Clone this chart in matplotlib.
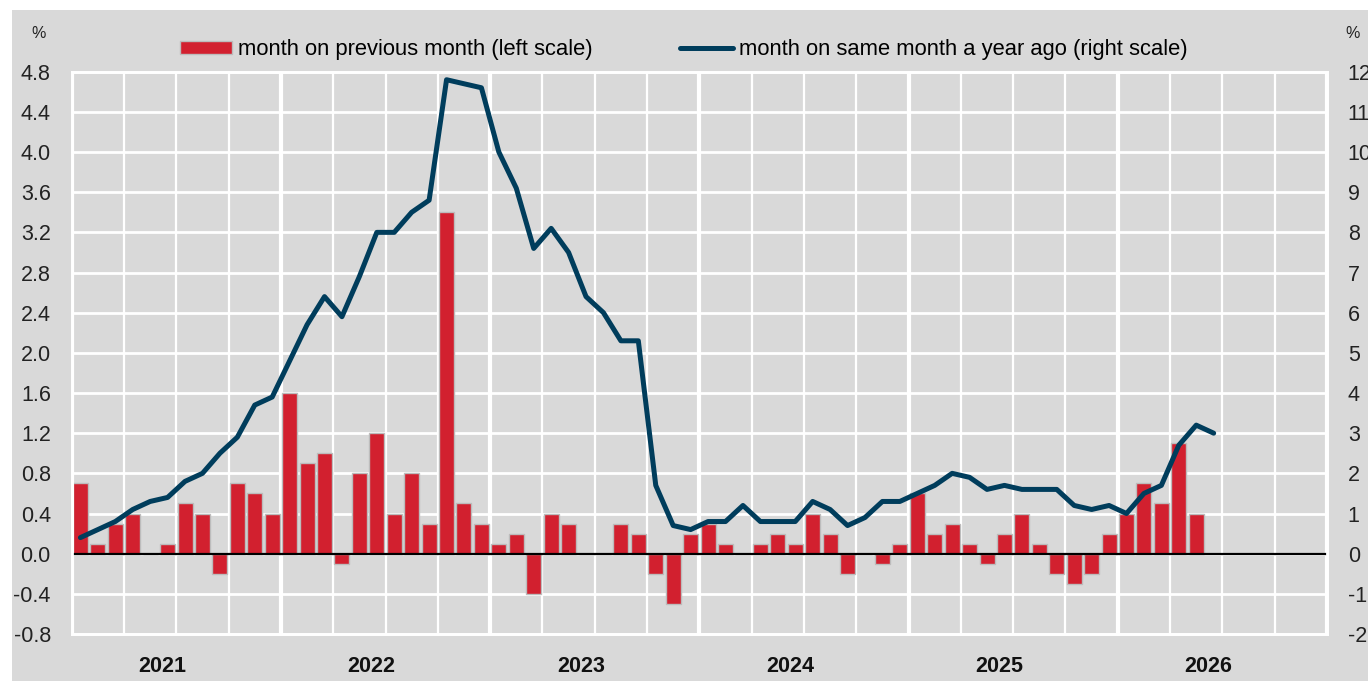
import matplotlib.pyplot as plt
import numpy as np
from matplotlib.patches import Rectangle
from matplotlib.transforms import blended_transform_factory

plt.rcParams['font.family'] = ['Liberation Sans', 'DejaVu Sans']

# =========================
# data (monthly, from Jan 2021)
# =========================
years = [2021, 2022, 2023, 2024, 2025, 2026]

# month on previous month, Jan 2021 - May 2026 (left scale, %)
mom = [0.7, 0.1, 0.3, 0.4, 0.0, 0.1, 0.5, 0.4, -0.2, 0.7, 0.6, 0.4,
       1.6, 0.9, 1.0, -0.1, 0.8, 1.2, 0.4, 0.8, 0.3, 3.4, 0.5, 0.3,
       0.1, 0.2, -0.4, 0.4, 0.3, 0.0, 0.0, 0.3, 0.2, -0.2, -0.5, 0.2,
       0.3, 0.1, 0.0, 0.1, 0.2, 0.1, 0.4, 0.2, -0.2, 0.0, -0.1, 0.1,
       0.6, 0.2, 0.3, 0.1, -0.1, 0.2, 0.4, 0.1, -0.2, -0.3, -0.2, 0.2,
       0.4, 0.7, 0.5, 1.1, 0.4]

# month on same month a year ago, Jan 2021 - Jun 2026 (right scale, %)
yoy = [0.4, 0.6, 0.8, 1.1, 1.3, 1.4, 1.8, 2.0, 2.5, 2.9, 3.7, 3.9,
       4.8, 5.7, 6.4, 5.9, 6.9, 8.0, 8.0, 8.5, 8.8, 11.8, 11.7, 11.6,
       10.0, 9.1, 7.6, 8.1, 7.5, 6.4, 6.0, 5.3, 5.3, 1.7, 0.7, 0.6,
       0.8, 0.8, 1.2, 0.8, 0.8, 0.8, 1.3, 1.1, 0.7, 0.9, 1.3, 1.3,
       1.5, 1.7, 2.0, 1.9, 1.6, 1.7, 1.6, 1.6, 1.6, 1.2, 1.1, 1.2,
       1.0, 1.5, 1.7, 2.7, 3.2, 3.0]

left_ticks = np.arange(-0.8, 4.81, 0.4)
right_ticks = np.arange(-2, 13, 1)

RED = '#d2202f'
NAVY = '#003d5c'
GREY = '#d9d9d9'

W, H = 1368, 681
fig = plt.figure(figsize=(W / 100, H / 100), dpi=100)
fig.patch.set_facecolor('white')
# grey panel (the white strip on top is the cropped title area)
fig.patches.append(Rectangle((12 / W, 0), 1 - 12 / W, 1 - 10 / H,
                             transform=fig.transFigure, facecolor=GREY,
                             edgecolor='none', zorder=-10))

x0, x1, y0, y1 = 71.7, 1327, 71.7, 634
ax = fig.add_axes([x0 / W, 1 - y1 / H, (x1 - x0) / W, (y1 - y0) / H])
ax.set_facecolor(GREY)
ax2 = ax.twinx()

n_months = 12 * len(years)
xb = np.arange(len(mom))
xl = np.arange(len(yoy))

bars = ax.bar(xb, mom, width=0.86, color=RED, edgecolor='#bcbcbc',
              linewidth=1.0, zorder=2, label='month on previous month (left scale)')
ax.axhline(0, color='black', lw=1.6, zorder=3)
line, = ax2.plot(xl, yoy, color=NAVY, lw=3.6, solid_joinstyle='round',
                 solid_capstyle='round',
                 label='month on same month a year ago (right scale)')

ax.set_xlim(-0.5, n_months - 0.5)
ax2.set_xlim(-0.5, n_months - 0.5)
ax.set_ylim(-0.8, 4.8)
ax2.set_ylim(-2, 12)

# grid: quarters thin, years thick
ax.set_axisbelow(True)
ax.set_yticks(left_ticks)
ax.set_yticklabels([f'{v:.1f}' for v in left_ticks])
ax.yaxis.grid(True, color='white', lw=2)
ax.set_xticks(np.arange(-0.5, n_months, 3))
ax.set_xticklabels([])
ax.xaxis.grid(True, color='white', lw=1.6)
for k in range(len(years) + 1):
    ax.axvline(-0.5 + 12 * k, color='white', lw=3, zorder=0.6)

ax.tick_params(axis='both', length=0)
ax.tick_params(axis='y', labelsize=15.5, pad=15, colors='#222222')
ax2.set_yticks(right_ticks)
ax2.set_yticklabels([str(v) for v in right_ticks])
ax2.tick_params(axis='y', length=0, labelsize=15.5, pad=15, colors='#222222')

for a in (ax, ax2):
    for s in a.spines.values():
        s.set_color('white')
        s.set_linewidth(2)

# year labels
tr = blended_transform_factory(ax.transData, ax.transAxes)
for k, yr in enumerate(years):
    ax.text(12 * k + 4.7, -0.057, str(yr), transform=tr, ha='center', va='center',
            fontsize=15.5, fontweight='bold', color='#111111')

# % units
fig.text(39 / W, 1 - 33 / H, '%', ha='center', va='center', fontsize=11.5, color='#222222')
fig.text(1353 / W, 1 - 33 / H, '%', ha='center', va='center', fontsize=11.5, color='#222222')

fig.legend(handles=[bars, line], loc='center', bbox_to_anchor=(683.5 / W, 1 - 50 / H),
           ncol=2, frameon=False, fontsize=15.8, handlelength=2.4, handleheight=0.55,
           handletextpad=0.25, columnspacing=4.0, borderpad=0)

plt.savefig('out.png', dpi=100, facecolor='white')
plt.close()
